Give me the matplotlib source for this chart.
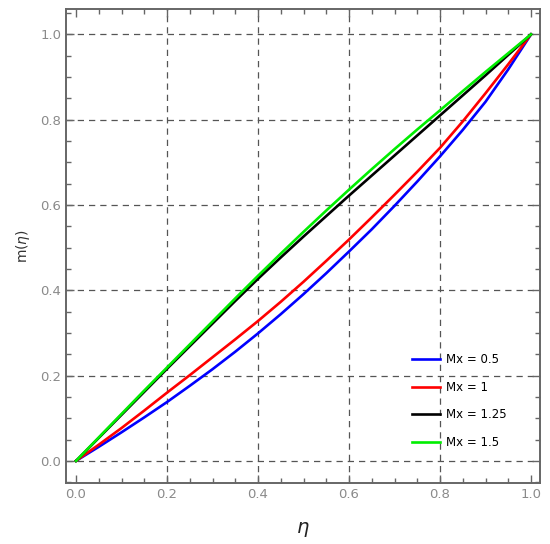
import matplotlib
matplotlib.use("Agg")
import matplotlib.pyplot as plt
from matplotlib.ticker import MultipleLocator

eta = [0.0, 0.05, 0.1, 0.15, 0.2, 0.25, 0.3, 0.35, 0.4, 0.45, 0.5,
       0.55, 0.6, 0.65, 0.7, 0.75, 0.8, 0.85, 0.9, 0.95, 1.0]
m_05 = [0.0, 0.033, 0.067, 0.102, 0.138, 0.176, 0.215, 0.256, 0.299, 0.344, 0.391,
        0.440, 0.491, 0.543, 0.598, 0.655, 0.714, 0.776, 0.842, 0.918, 1.0]
m_10 = [0.0, 0.038, 0.077, 0.118, 0.160, 0.201, 0.243, 0.285, 0.328, 0.373, 0.420,
        0.469, 0.519, 0.571, 0.624, 0.678, 0.734, 0.796, 0.862, 0.930, 1.0]
m_125 = [0.0, 0.054, 0.108, 0.162, 0.216, 0.269, 0.322, 0.375, 0.427, 0.477, 0.526,
         0.574, 0.622, 0.669, 0.716, 0.763, 0.810, 0.857, 0.904, 0.952, 1.0]
m_15 = [0.0, 0.055, 0.110, 0.165, 0.219, 0.273, 0.327, 0.381, 0.434, 0.486, 0.537,
        0.587, 0.636, 0.684, 0.731, 0.777, 0.822, 0.867, 0.912, 0.956, 1.0]

series = [(m_05, "Mx = 0.5", "#0000ff"),
          (m_10, "Mx = 1", "#ff0000"),
          (m_125, "Mx = 1.25", "#000000"),
          (m_15, "Mx = 1.5", "#00ee00")]

xticks = [0.0, 0.2, 0.4, 0.6, 0.8, 1.0]
yticks = [0.0, 0.2, 0.4, 0.6, 0.8, 1.0]

fig = plt.figure(figsize=(5.5, 5.44), dpi=100)
ax = fig.add_axes([0.12, 0.112, 0.862, 0.871])

for y, lab, c in series:
    ax.plot(eta, y, color=c, lw=1.9, label=lab, zorder=3)

ax.set_xlim(-0.022, 1.02)
ax.set_ylim(-0.052, 1.059)

for gx in [0.2, 0.4, 0.6, 0.8]:
    ax.axvline(gx, color="#555555", ls=(0, (5, 4)), lw=0.9, zorder=1)
for gy in yticks:
    ax.axhline(gy, color="#555555", ls=(0, (5, 4)), lw=0.9, zorder=1)

ax.set_xticks(xticks)
ax.set_yticks(yticks)
ax.set_xticklabels([f"{v:.1f}" for v in xticks])
ax.set_yticklabels([f"{v:.1f}" for v in yticks])
ax.xaxis.set_minor_locator(MultipleLocator(0.05))
ax.yaxis.set_minor_locator(MultipleLocator(0.05))
ax.tick_params(which="both", direction="in", top=True, right=True, color="#666666",
               labelcolor="#8a8a8a", labelsize=9.5)
ax.tick_params(which="major", length=6, width=1)
ax.tick_params(which="minor", length=3.5, width=1)
for s in ax.spines.values():
    s.set_color("#666666")
    s.set_linewidth(1.4)

ax.set_xlabel(r"$\eta$", fontsize=14, color="#222222", labelpad=14)
ax.set_ylabel(r"m($\eta$)", fontsize=10, color="#333333", labelpad=6)

leg = ax.legend(loc="lower right", frameon=False, fontsize=8.5, handlelength=2.4,
                handletextpad=0.5, labelspacing=1.25, bbox_to_anchor=(0.952, 0.049))

fig.savefig("out.png", dpi=100)
